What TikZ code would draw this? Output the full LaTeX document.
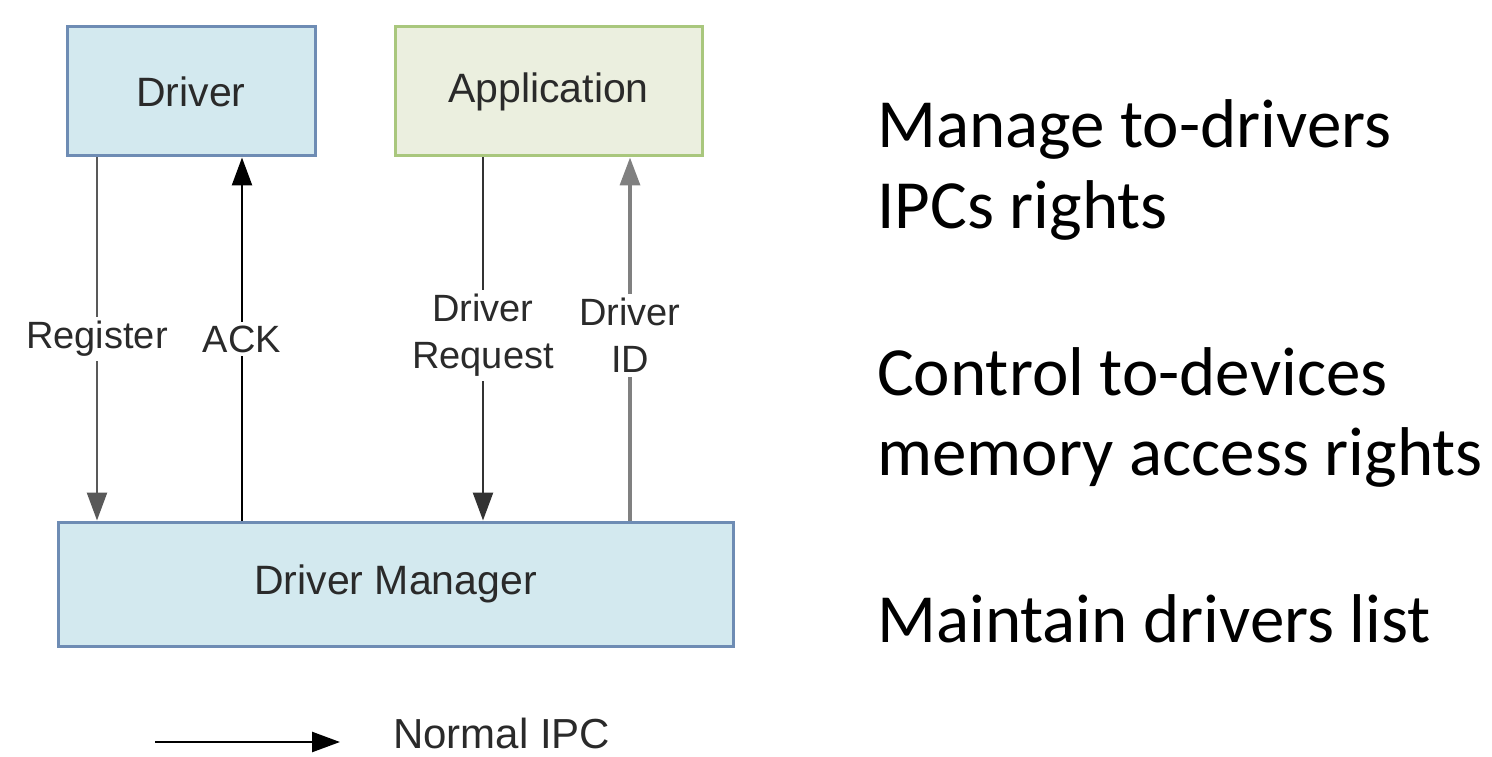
\documentclass[tikz,border=0pt]{standalone}
\usepackage{fontspec}
\setmainfont{Liberation Sans}
\newfontfamily\calibri{Carlito}
\usetikzlibrary{arrows.meta}
\definecolor{bluefill}{HTML}{D3E9EF}
\definecolor{blueline}{HTML}{6E8CB4}
\definecolor{greenfill}{HTML}{EBEFDF}
\definecolor{greenline}{HTML}{A9C77D}
\definecolor{txt}{HTML}{2A2A2A}
\tikzset{
  box/.style={draw, line width=3pt, inner sep=0pt, text=txt, font=\fontsize{41}{48}\selectfont},
  bluebox/.style={box, fill=bluefill, draw=blueline},
  greenbox/.style={box, fill=greenfill, draw=greenline},
  ipc/.style={line width=2.5pt, -{Triangle[length=28pt,width=20pt]}},
  lbl/.style={fill=white, text=txt, inner sep=4pt, align=center, font=\fontsize{38}{47}\selectfont},
  side/.style={anchor=base west, inner sep=0pt, font=\calibri\fontsize{69}{80}\selectfont}
}
\begin{document}
\begin{tikzpicture}[x=1pt,y=-1pt]
\useasboundingbox (0,0) rectangle (1492,757);
\node[bluebox, minimum width=248pt, minimum height=129pt] (drv) at (191,91.5) {Driver};
\node[greenbox, minimum width=307pt, minimum height=129pt] (app) at (548.5,91.5) {Application};
\node[bluebox, minimum width=675pt, minimum height=124pt] (dm) at (395.5,584) {Driver Manager};
\coordinate (xr) at (97,0);
\coordinate (xa) at (242,0);
\coordinate (xq) at (483,0);
\coordinate (xi) at (630,0);
\draw[ipc, draw=black!65] (xr |- drv.south) -- node[lbl] (lreg) {Register} (xr |- dm.north);
\draw[ipc, draw=black] (xa |- dm.north) -- node[lbl] (lack) {ACK} (xa |- drv.south);
\draw[ipc, draw=black!80] (xq |- app.south) -- node[lbl, pos=0.49] (lreq) {Driver\\Request} (xq |- dm.north);
\draw[ipc, draw=black!50, line width=3.5pt] (xi |- dm.north) -- node[lbl, pos=0.51] (lid) {Driver\\ID} (xi |- app.south);
\coordinate (lg1) at (155,742);
\coordinate (lg2) at (340,742);
\draw[ipc, draw=black] (lg1) -- (lg2);
\node[anchor=base west, inner sep=0pt, text=txt, font=\fontsize{42}{48}\selectfont] (lgt) at (393,748) {Normal IPC};
\node[side] (s1) at (877,148) {Manage to-drivers};
\node[side] (s2) at (877,228) {IPCs rights};
\node[side] (s3) at (877,395) {Control to-devices};
\node[side] (s4) at (877,475) {memory access rights};
\node[side] (s5) at (877,642) {Maintain drivers list};
\end{tikzpicture}
\end{document}
